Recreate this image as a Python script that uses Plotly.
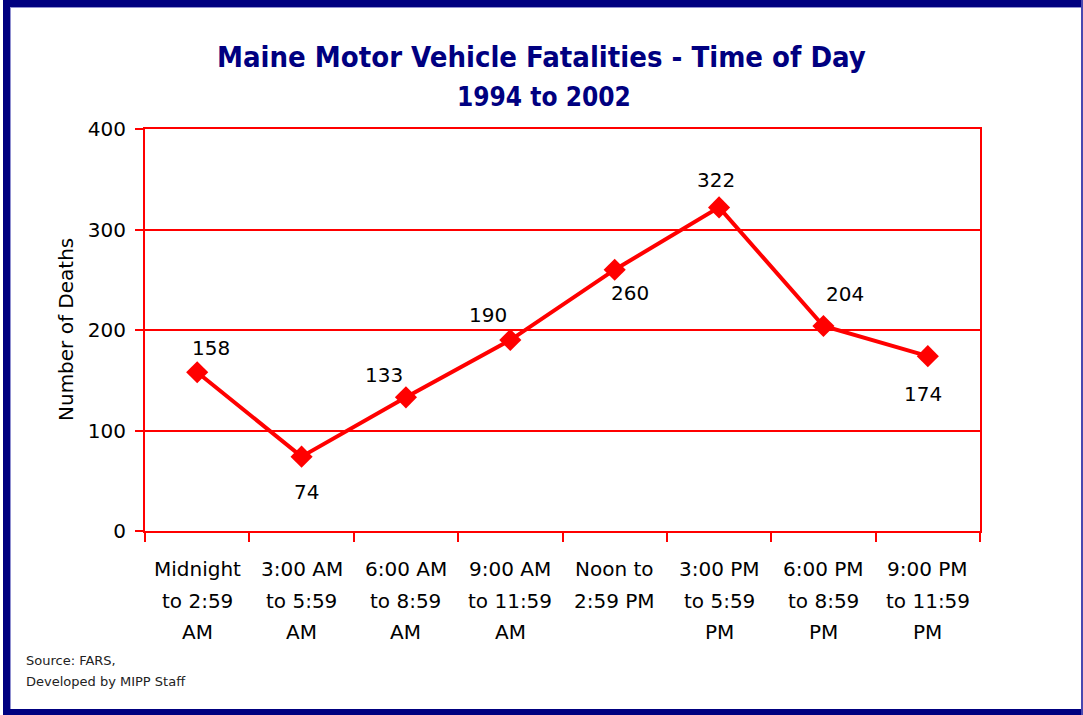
import plotly.graph_objects as go

categories = ["Midnight to 2:59 AM", "3:00 AM to 5:59 AM", "6:00 AM to 8:59 AM",
              "9:00 AM to 11:59 AM", "Noon to 2:59 PM", "3:00 PM to 5:59 PM",
              "6:00 PM to 8:59 PM", "9:00 PM to 11:59 PM"]
tick_lines = [["Midnight", "to 2:59", "AM"], ["3:00 AM", "to 5:59", "AM"],
              ["6:00 AM", "to 8:59", "AM"], ["9:00 AM", "to 11:59", "AM"],
              ["Noon to", "2:59 PM", ""], ["3:00 PM", "to 5:59", "PM"],
              ["6:00 PM", "to 8:59", "PM"], ["9:00 PM", "to 11:59", "PM"]]
deaths = [158, 74, 133, 190, 260, 322, 204, 174]
y_ticks = [0, 100, 200, 300, 400]

# label offsets in pixels (style only)
label_dx = [14, 5, -22, -22, 15, -3, 22, -5]
label_dy = [24, -35, 22, 25, -23, 27, 32, -38]

RED = "#FF0000"
NAVY = "#000080"
W, H = 1083, 715
L, R, T, B = 145, 103, 129, 184
PW, PH = W - L - R, H - T - B
FONT = "DejaVu Sans"

def px(x):
    return (x - L) / PW

def py(y):
    return (H - B - y) / PH

fig = go.Figure()
fig.add_trace(go.Scatter(
    x=categories, y=deaths, mode="lines+markers",
    line=dict(color=RED, width=4),
    marker=dict(symbol="diamond", size=17, color=RED),
    hoverinfo="skip", showlegend=False,
))

annotations = []
for c, v, dx, dy in zip(categories, deaths, label_dx, label_dy):
    annotations.append(dict(x=c, y=v, xref="x", yref="y", text=str(v), showarrow=False,
                            xshift=dx, yshift=dy,
                            font=dict(family=FONT, size=20, color="black")))
for c, lines in zip(categories, tick_lines):
    for i, t in enumerate(lines):
        if t:
            annotations.append(dict(x=c, y=py(569 + 31.5 * i), xref="x", yref="paper",
                                    text=t, showarrow=False, yanchor="middle",
                                    font=dict(family=FONT, size=20, color="black")))

annotations += [
    dict(x=px(541), y=py(57), xref="paper", yref="paper", text="<b>Maine Motor Vehicle Fatalities - Time of Day</b>",
         showarrow=False, yanchor="middle", font=dict(family="DejaVu Sans Condensed", size=29, color=NAVY)),
    dict(x=px(544), y=py(97), xref="paper", yref="paper", text="<b>1994 to 2002</b>",
         showarrow=False, yanchor="middle", font=dict(family="DejaVu Sans Condensed", size=26, color=NAVY)),
    dict(x=px(24), y=py(660), xref="paper", yref="paper", text="Source: FARS,",
         showarrow=False, xanchor="left", yanchor="middle", font=dict(family=FONT, size=13, color="#222222")),
    dict(x=px(24), y=py(681), xref="paper", yref="paper", text="Developed by MIPP Staff",
         showarrow=False, xanchor="left", yanchor="middle", font=dict(family=FONT, size=13, color="#222222")),
    dict(x=px(52), y=py(330), xref="paper", yref="paper", text="Number of Deaths", textangle=-90,
         showarrow=False, font=dict(family=FONT, size=20, color="black")),
]

shapes = [
    dict(type="rect", xref="paper", yref="paper", x0=px(3), x1=px(10), y0=py(0), y1=py(H), fillcolor=NAVY, line_width=0),
    dict(type="rect", xref="paper", yref="paper", x0=px(3), x1=px(W), y0=py(0), y1=py(7), fillcolor=NAVY, line_width=0),
    dict(type="rect", xref="paper", yref="paper", x0=px(3), x1=px(W), y0=py(709), y1=py(H), fillcolor=NAVY, line_width=0),
    dict(type="rect", xref="paper", yref="paper", x0=px(1081), x1=px(W), y0=py(0), y1=py(H), fillcolor="#4848B0", line_width=0),
    dict(type="rect", xref="paper", yref="paper", x0=px(10), x1=px(11), y0=py(7), y1=py(709), fillcolor="#9090D0", line_width=0),
    dict(type="rect", xref="paper", yref="paper", x0=px(10), x1=px(1081), y0=py(7), y1=py(8), fillcolor="#9090D0", line_width=0),
]

fig.update_layout(
    width=W, height=H,
    margin=dict(l=L, r=R, t=T, b=B, pad=0),
    paper_bgcolor="white", plot_bgcolor="white",
    annotations=annotations, shapes=shapes,
    xaxis=dict(type="category", range=[-0.5, 7.5], showticklabels=False,
               tickson="boundaries", ticks="outside", ticklen=9, tickwidth=2, tickcolor=RED,
               showline=True, linecolor=RED, linewidth=2, mirror=True, showgrid=False),
    yaxis=dict(range=[0, 400], tickvals=y_ticks, ticks="outside", ticklen=8, tickwidth=2, tickcolor=RED,
               showline=True, linecolor=RED, linewidth=2, mirror=True,
               showgrid=True, gridcolor=RED, gridwidth=2, zeroline=False, ticklabelstandoff=5,
               tickfont=dict(family=FONT, size=20, color="black")),
)

fig.write_html("out.html", config={"displayModeBar": False},
               post_script="document.body.style.margin='0';document.body.style.overflow='hidden';")
